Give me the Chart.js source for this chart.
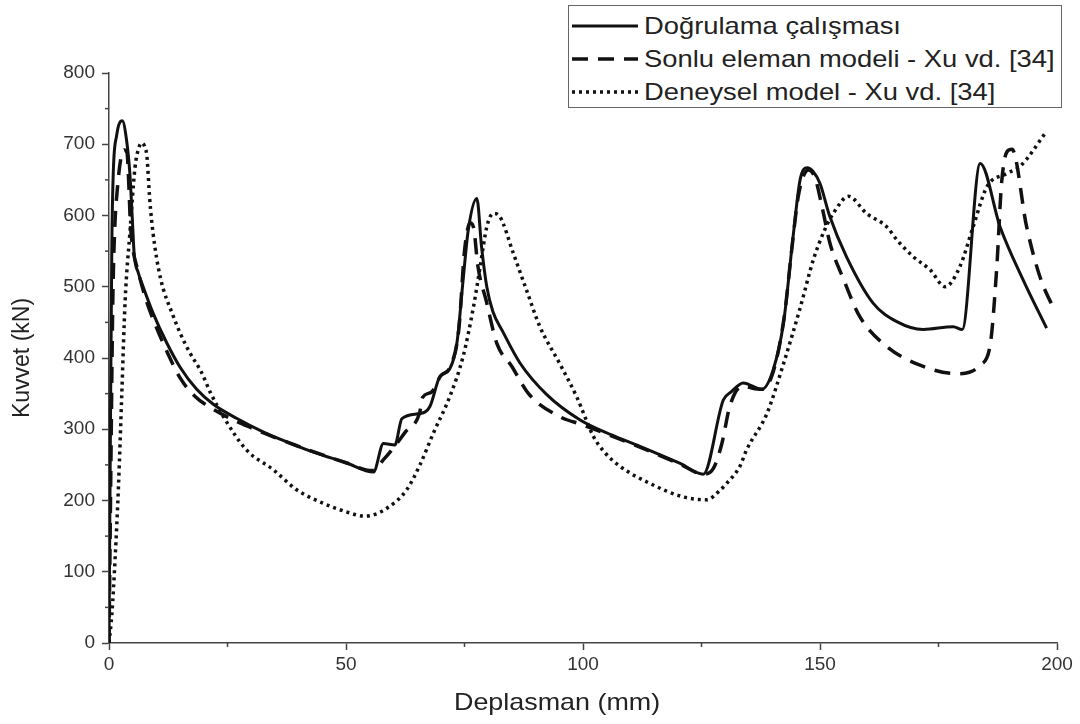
<!DOCTYPE html>
<html>
<head>
<meta charset="utf-8">
<script src="https://cdn.jsdelivr.net/npm/chart.js@4/dist/chart.umd.min.js"></script>
<style>
  html, body { margin: 0; padding: 0; background: #fff; }
  #wrap { position: relative; width: 1080px; height: 724px; }
  #legend {
    position: absolute; left: 568px; top: 5px; width: 494px; height: 103px;
    border: 1.5px solid #666; box-sizing: border-box; background: #fff;
    font-family: "Liberation Sans", Arial, sans-serif; font-size: 24px; color: #222;
    padding-top: 3px;
  }
  .row { display: flex; align-items: center; height: 33px; white-space: nowrap; }
  .row svg { margin-left: 3px; margin-right: 6px; flex: none; }
  .row span { display: inline-block; transform: scaleX(1.14); transform-origin: left center; }
  #xtitle {
    position: absolute; left: 454px; top: 688px; white-space: nowrap;
    font-family: "Liberation Sans", Arial, sans-serif; font-size: 24px; color: #222;
    transform: scaleX(1.12); transform-origin: left center; line-height: 28px;
  }
</style>
</head>
<body>
<div id="wrap">
  <canvas id="c" width="1080" height="724"></canvas>
  <div id="legend"></div>
  <div id="xtitle"></div>
</div>
<script>
// ---- Data ----
const seriesLabels = ["Doğrulama çalışması", "Sonlu eleman modeli - Xu vd. [34]", "Deneysel model - Xu vd. [34]"];
const xTitle = "Deplasman (mm)";
const yTitle = "Kuvvet (kN)";

const solidX = [0,0.3,0.6,0.9,1.6,2.8,3.7,4.4,4.9,5.3,6.2,7.2,9.3,12.2,15,18.5,22,27,32.6,38,43.1,50,55.8,57.9,60.3,61.8,65.6,67.7,69.8,71.9,73.4,74.7,75.8,77.6,78.6,79.7,81,83,86.7,92.3,99.4,106,112,120.5,125.4,129.6,131.2,133.8,137.7,140.1,142.3,144.4,145.8,147.3,148.5,150,152,155.6,161.2,166.2,171.8,178.1,180,183.8,188,192.9,197.8];
const solidY = [0,300,560,660,712,733,706,659,598,547,519,500,463,421,387,356,335,315,296,281,268,253,240,280,278,315,322,332,374,385,421,509,580,624,556,500,465,438,393,349,313,292,276,252,237,341,352,365,356,383,449,575,650,667,662,645,600,542,477,451,440,444,440,673,584,509,442];

const dashX = [0,0.4,0.8,1.2,1.8,2.5,3.2,3.8,4.2,4.5,5,6,8,10,12.5,15,18,22,30,40,50,55.5,58,60.5,62.5,65.5,66.2,68,70,72,73.8,75,76.2,77,77.8,79.6,81.8,85,88.5,95,100,112,120.5,125.4,127.5,129.3,131,133.5,137.7,140.1,142.5,144,145.5,147.6,149,150.5,152.1,155,158.4,164.1,171.1,178.8,181.5,183.8,185.9,187.3,188.3,189.5,190.5,193.6,196.4,199.6];
const dashY = [0,250,480,580,640,680,692,688,640,590,555,525,478,443,405,372,347,328,302,276,253,242,258,278,296,322,345,352,375,388,440,550,590,580,530,480,421,388,350,318,306,275,251,237,245,280,333,360,356,380,460,550,630,664,652,610,561,510,458,416,390,378,380,390,418,528,645,690,693,584,514,465];

const dotX = [0,0.6,1.3,2,2.7,3.4,4.4,5.5,6.3,6.9,7.5,8,8.6,9.3,10.8,13.6,15,17,19.5,21.5,24.1,29,34.7,39.6,45.2,50.1,54,58.6,62.8,65.6,68.4,71.9,74.7,76.9,78.3,79.7,81.1,82.5,85.3,88.1,90.9,95.1,98.7,102.2,104.5,107.8,114.1,121.2,126.1,129,130.3,133.1,134.5,138.8,142.3,145.8,148.6,151,153,156,159.8,164.1,166.2,169.7,173.2,176.4,179.5,182.3,185.2,189.4,192.2,197.8];
const dotY = [0,40,120,220,350,480,575,668,695,702,697,683,622,575,514,458,435,408,380,350,318,271,243,215,196,184,178,189,215,250,294,346,402,472,528,584,603,598,547,495,444,392,345,290,268,248,224,205,201,215,224,248,271,322,392,470,538,580,605,627,603,584,566,542,524,500,528,584,640,659,669,718];

const xTicks = [0, 50, 100, 150, 200];
const yTicks = [0, 100, 200, 300, 400, 500, 600, 700, 800];

// ---- Build ----
const toPts = (xs, ys) => xs.map((x, i) => ({ x: x, y: ys[i] }));
const styles = [
  { borderDash: [], borderWidth: 3 },
  { borderDash: [16, 10], borderWidth: 3.5 },
  { borderDash: [3, 4], borderWidth: 3.5 }
];
const seriesData = [toPts(solidX, solidY), toPts(dashX, dashY), toPts(dotX, dotY)];

const datasets = seriesData.map((d, i) => ({
  label: seriesLabels[i],
  data: d,
  showLine: true,
  borderColor: '#111',
  backgroundColor: '#111',
  borderWidth: styles[i].borderWidth,
  borderDash: styles[i].borderDash,
  pointRadius: 0,
  fill: false,
  cubicInterpolationMode: 'monotone',
  borderCapStyle: 'butt',
  borderJoinStyle: 'round'
}));

const minorTicks = {
  id: 'minorTicks',
  afterDraw(chart) {
    const ctx = chart.ctx;
    ctx.save();
    ctx.strokeStyle = '#444';
    ctx.lineWidth = 1.5;
    const xs = chart.scales.x, ys = chart.scales.y;
    for (let i = 0; i < xTicks.length - 1; i++) {
      const v = (xTicks[i] + xTicks[i + 1]) / 2;
      const p = xs.getPixelForValue(v);
      ctx.beginPath(); ctx.moveTo(p, xs.top); ctx.lineTo(p, xs.top + 4); ctx.stroke();
    }
    for (let i = 0; i < yTicks.length - 1; i++) {
      const v = (yTicks[i] + yTicks[i + 1]) / 2;
      const p = ys.getPixelForValue(v);
      ctx.beginPath(); ctx.moveTo(ys.right, p); ctx.lineTo(ys.right - 4, p); ctx.stroke();
    }
    ctx.restore();
  }
};

const fontFam = '"Liberation Sans", Arial, sans-serif';

const chart = new Chart(document.getElementById('c'), {
  type: 'scatter',
  data: { datasets: datasets },
  plugins: [minorTicks],
  options: {
    responsive: false,
    animation: false,
    devicePixelRatio: 1,
    layout: { padding: { top: 73, right: 23, left: 0, bottom: 0 } },
    plugins: { legend: { display: false }, tooltip: { enabled: false } },
    scales: {
      x: {
        type: 'linear', min: 0, max: 200,
        afterBuildTicks: (s) => { s.ticks = xTicks.map(v => ({ value: v })); },
        afterFit: (s) => { s.height = 81; },
        ticks: { font: { family: fontFam, size: 19 }, color: '#333', padding: 3, maxRotation: 0 },
        grid: { drawOnChartArea: false, drawTicks: true, tickLength: 7, tickColor: '#444', tickWidth: 1.5 },
        border: { display: true, color: '#444', width: 1.5 },
        title: { display: false }
      },
      y: {
        type: 'linear', min: 0, max: 800,
        afterBuildTicks: (s) => { s.ticks = yTicks.map(v => ({ value: v })); },
        afterFit: (s) => { s.width = 109; },
        ticks: { font: { family: fontFam, size: 19 }, color: '#333', padding: 7 },
        grid: { drawOnChartArea: false, drawTicks: true, tickLength: 7, tickColor: '#444', tickWidth: 1.5 },
        border: { display: true, color: '#444', width: 1.5 },
        title: { display: true, text: yTitle, font: { family: fontFam, size: 23 }, color: '#222', padding: { top: 9, bottom: 0 } }
      }
    }
  }
});

document.getElementById('xtitle').textContent = xTitle;

// ---- HTML legend built from the datasets ----
const legend = document.getElementById('legend');
chart.data.datasets.forEach((ds) => {
  const row = document.createElement('div');
  row.className = 'row';
  const ns = 'http://www.w3.org/2000/svg';
  const svg = document.createElementNS(ns, 'svg');
  svg.setAttribute('width', '66'); svg.setAttribute('height', '10');
  const ln = document.createElementNS(ns, 'line');
  ln.setAttribute('x1', '0'); ln.setAttribute('y1', '5');
  ln.setAttribute('x2', '66'); ln.setAttribute('y2', '5');
  ln.setAttribute('stroke', ds.borderColor);
  ln.setAttribute('stroke-width', ds.borderWidth);
  if (ds.borderDash.length) ln.setAttribute('stroke-dasharray', ds.borderDash.join(' '));
  svg.appendChild(ln);
  const span = document.createElement('span');
  span.textContent = ds.label;
  row.appendChild(svg); row.appendChild(span);
  legend.appendChild(row);
});
</script>
</body>
</html>
